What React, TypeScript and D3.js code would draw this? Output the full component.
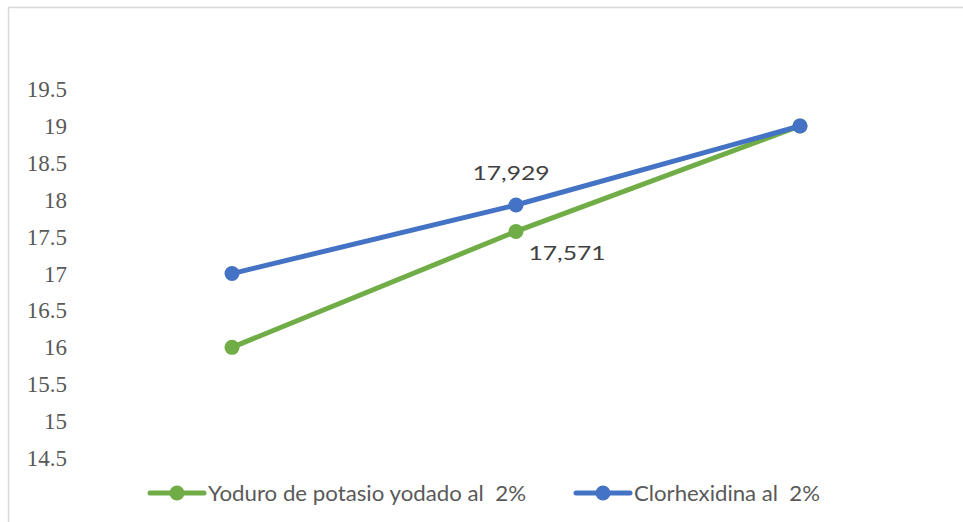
import React, { useEffect, useRef } from "react";
import * as d3 from "d3";

const categories = ["Inicio", "Medio", "Final"];
const yodoValues = [16, 17.571, 19];
const clorValues = [17, 17.929, 19];
const yTicks = [14.5, 15, 15.5, 16, 16.5, 17, 17.5, 18, 18.5, 19, 19.5];
const seriesNames = ["Yoduro de potasio yodado al  2%", "Clorhexidina al  2%"];
const dataLabels = ["17,571", "17,929"];

const GREEN = "#70AD47";
const BLUE = "#4472C4";

const App = () => {
  const canvas = useRef<SVGSVGElement>(null);

  useEffect(() => {
    const width = 963;
    const height = 522;
    const svg = d3.select(canvas.current);
    svg.selectAll("*").remove();

    svg
      .append("rect")
      .attr("x", 8.5)
      .attr("y", 7.5)
      .attr("width", 1000)
      .attr("height", 600)
      .attr("fill", "#fff")
      .attr("stroke", "#d9d9d9")
      .attr("stroke-width", 1.5);

    const x = d3.scalePoint().domain(categories).range([232, 800]);
    const y = d3.scaleLinear().domain([14.5, 19]).range([458, 126]);

    const axis = svg.append("g").attr("transform", "translate(67,0)");
    axis
      .selectAll("text")
      .data(yTicks)
      .join("text")
      .attr("x", 0)
      .attr("y", (d) => y(d))
      .attr("dy", "0.35em")
      .attr("text-anchor", "end")
      .attr("font-family", "'Liberation Serif', serif")
      .attr("font-size", 23)
      .attr("fill", "#595959")
      .text((d) => String(d));

    const line = d3
      .line<number>()
      .x((_, i) => x(categories[i]) as number)
      .y((d) => y(d));

    const series = [
      { values: yodoValues, color: GREEN },
      { values: clorValues, color: BLUE },
    ];

    series.forEach((s) => {
      svg
        .append("path")
        .datum(s.values)
        .attr("d", line)
        .attr("fill", "none")
        .attr("stroke", s.color)
        .attr("stroke-width", 5)
        .attr("stroke-linecap", "round");
      svg
        .append("g")
        .selectAll("circle")
        .data(s.values)
        .join("circle")
        .attr("cx", (_, i) => x(categories[i]) as number)
        .attr("cy", (d) => y(d))
        .attr("r", 7.5)
        .attr("fill", s.color);
    });

    const labelFont = "Lato, 'Open Sans', sans-serif";
    // data labels for the middle points
    const addLabel = (txt: string, cx: number, cy: number) =>
      svg
        .append("text")
        .attr("x", cx)
        .attr("y", cy)
        .attr("dy", "0.35em")
        .attr("text-anchor", "middle")
        .attr("font-family", labelFont)
        .attr("font-size", 20)
        .attr("fill", "#404040")
        .attr("textLength", 77)
        .attr("lengthAdjust", "spacingAndGlyphs")
        .text(txt);
    addLabel(dataLabels[0], (x(categories[1]) as number) + 51, y(yodoValues[1]) + 22);
    addLabel(dataLabels[1], (x(categories[1]) as number) - 5, y(clorValues[1]) - 32);

    const legend = [
      { name: seriesNames[0], color: GREEN, x0: 150, len: 318 },
      { name: seriesNames[1], color: BLUE, x0: 576, len: 186 },
    ];
    const ly = 493;
    legend.forEach((l) => {
      svg
        .append("line")
        .attr("x1", l.x0)
        .attr("x2", l.x0 + 54)
        .attr("y1", ly)
        .attr("y2", ly)
        .attr("stroke", l.color)
        .attr("stroke-width", 5)
        .attr("stroke-linecap", "round");
      svg
        .append("circle")
        .attr("cx", l.x0 + 27)
        .attr("cy", ly)
        .attr("r", 7.5)
        .attr("fill", l.color);
      svg
        .append("text")
        .attr("x", l.x0 + 58)
        .attr("y", ly)
        .attr("dy", "0.35em")
        .attr("font-family", labelFont)
        .attr("font-size", 22)
        .attr("fill", "#595959")
        .attr("textLength", l.len)
        .attr("lengthAdjust", "spacingAndGlyphs")
        .style("white-space", "pre")
        .text(l.name);
    });

    svg.attr("width", width).attr("height", height);
  }, []);

  return (
    <svg
      ref={canvas}
      width={963}
      height={522}
      style={{ position: "absolute", left: 0, top: 0 }}
    />
  );
};

export default App;
